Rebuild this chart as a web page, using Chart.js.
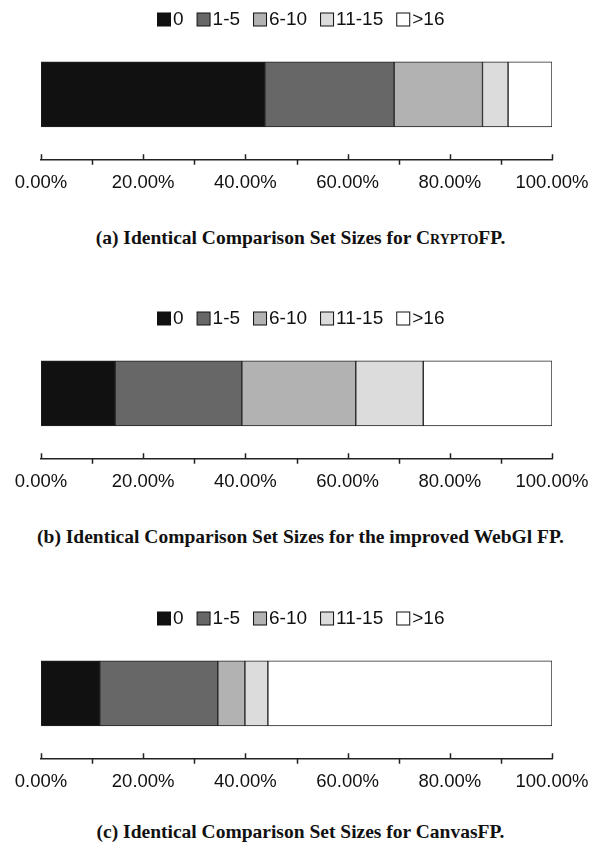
<!DOCTYPE html>
<html>
<head>
<meta charset="utf-8">
<script src="https://cdn.jsdelivr.net/npm/chart.js@4/dist/chart.umd.min.js"></script>
<style>
  html, body { margin: 0; padding: 0; background: #fff; }
  body { width: 601px; height: 842px; position: relative; overflow: hidden; }
  .panel { position: absolute; left: 0; width: 601px; height: 210px; }
  .caption {
    position: absolute; left: 0; width: 601px; text-align: center;
    font-family: "Liberation Serif", "Times New Roman", serif; font-weight: bold;
    font-size: 19.5px; line-height: 22px; color: #111;
  }
  .sc { font-variant: small-caps; }
</style>
</head>
<body>
<div class="panel" style="top:0px"><canvas id="chartCrypto" width="601" height="210"></canvas></div>
<div class="caption" style="top:227px">(a) Identical Comparison Set Sizes for <span class="sc">Crypto</span>FP.</div>

<div class="panel" style="top:299px"><canvas id="chartWebgl" width="601" height="210"></canvas></div>
<div class="caption" style="top:526px">(b) Identical Comparison Set Sizes for the improved WebGl FP.</div>

<div class="panel" style="top:599px"><canvas id="chartCanvas" width="601" height="210"></canvas></div>
<div class="caption" style="top:821px">(c) Identical Comparison Set Sizes for CanvasFP.</div>

<script>
// Comparison set size buckets (legend order)
const sizeBuckets = ['0', '1-5', '6-10', '11-15', '>16'];
const bucketColors = ['#111111', '#676767', '#b2b2b2', '#dcdcdc', '#ffffff'];

// Share of fingerprints (%) per bucket
const cryptoFP = [43.8, 25.3, 17.3, 5.0, 8.6];
const webglFP  = [14.5, 24.8, 22.3, 13.2, 25.2];
const canvasFP = [11.5, 23.1, 5.3, 4.5, 55.6];

// Axis ticks (%)
const majorTicks = [0, 20, 40, 60, 80, 100];
const minorTicks = [10, 30, 50, 70, 90];

const SANS = '"Liberation Sans", Arial, sans-serif';

// Legend row drawn above the plot: square swatch + label
const swatchLegend = {
  id: 'swatchLegend',
  afterDraw(chart) {
    const ctx = chart.ctx;
    const box = 13, gapText = 3, gapItem = 13;
    ctx.save();
    ctx.font = '19px ' + SANS;
    ctx.textBaseline = 'middle';
    const items = chart.data.datasets.map(ds => ({
      label: ds.label, color: ds.backgroundColor, w: ctx.measureText(ds.label).width
    }));
    let total = items.reduce((s, it) => s + box + gapText + it.w, 0) + gapItem * (items.length - 1);
    let x = Math.round(chart.width / 2 - total / 2);
    const cy = 19;
    items.forEach(it => {
      ctx.fillStyle = it.color;
      ctx.fillRect(x + 0.5, cy - box / 2 + 0.5, box, box);
      ctx.strokeStyle = '#111';
      ctx.lineWidth = 1;
      ctx.strokeRect(x + 0.5, cy - box / 2 + 0.5, box, box);
      ctx.fillStyle = '#111';
      ctx.fillText(it.label, x + box + gapText, cy + 1);
      x += box + gapText + it.w + gapItem;
    });
    ctx.restore();
  }
};

// Major ticks rise above the axis line, minor ticks hang below it
const axisTicks = {
  id: 'axisTicks',
  afterDraw(chart) {
    const sx = chart.scales.x;
    const y0 = chart.chartArea.bottom;
    const ctx = chart.ctx;
    ctx.save();
    ctx.strokeStyle = '#222';
    ctx.lineWidth = 1.5;
    ctx.beginPath();
    majorTicks.forEach(v => {
      const px = Math.round(sx.getPixelForValue(v)) + 0.5;
      ctx.moveTo(px, y0 - 5.5); ctx.lineTo(px, y0);
    });
    minorTicks.forEach(v => {
      const px = Math.round(sx.getPixelForValue(v)) + 0.5;
      ctx.moveTo(px, y0); ctx.lineTo(px, y0 + 5);
    });
    ctx.stroke();
    ctx.restore();
  }
};

function makeChart(id, values) {
  const datasets = sizeBuckets.map((b, i) => ({
    label: b,
    data: [values[i]],
    backgroundColor: bucketColors[i],
    borderColor: '#222',
    borderWidth: 1,
    borderSkipped: false,
    barThickness: 65
  }));
  return new Chart(document.getElementById(id), {
    type: 'bar',
    data: { labels: [''], datasets },
    options: {
      indexAxis: 'y',
      responsive: false,
      animation: false,
      devicePixelRatio: 1,
      layout: { padding: { left: 41, right: 49, top: 29, bottom: 4 } },
      plugins: { legend: { display: false }, tooltip: { enabled: false } },
      scales: {
        x: {
          stacked: true, min: 0, max: 100,
          afterBuildTicks: s => { s.ticks = majorTicks.map(v => ({ value: v })); },
          ticks: {
            padding: 12,
            color: '#111',
            font: { family: SANS, size: 18.5 },
            maxRotation: 0,
            callback: v => v.toFixed(2) + '%'
          },
          grid: { display: false, drawTicks: false },
          border: { display: true, color: '#222', width: 1.5 }
        },
        y: {
          stacked: true,
          display: false,
          grid: { display: false }
        }
      }
    },
    plugins: [swatchLegend, axisTicks]
  });
}

makeChart('chartCrypto', cryptoFP);
makeChart('chartWebgl', webglFP);
makeChart('chartCanvas', canvasFP);
</script>
</body>
</html>
